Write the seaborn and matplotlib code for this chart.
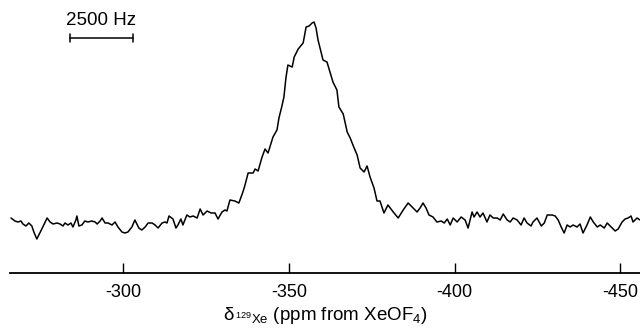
import numpy as np
import pandas as pd
import matplotlib
matplotlib.use("Agg")
import matplotlib.pyplot as plt
import seaborn as sns

# chemical shift (ppm) and intensity (arbitrary units)
shift_ppm = [
    -266.1, -267.3, -268.2, -269.1, -269.7, -270.6, -271.5, -272.4, -273.0, -273.9,
    -274.5, -275.7, -277.0, -277.9, -278.8, -280.0, -280.9, -281.8, -282.4, -283.3,
    -284.2, -284.8, -285.7, -286.0, -286.6, -287.5, -288.4, -289.3, -290.5, -291.5,
    -292.1, -293.0, -293.6, -294.5, -295.4, -296.6, -297.5, -298.4, -299.6, -300.5,
    -301.4, -302.6, -303.5, -304.7, -305.6, -306.6, -307.5, -308.7, -309.6, -310.5,
    -311.7, -312.6, -313.2, -313.8, -315.0, -315.9, -316.5, -317.4, -318.0, -319.2,
    -320.1, -321.1, -322.3, -323.2, -324.1, -325.3, -326.5, -327.7, -328.6, -329.8,
    -330.7, -331.3, -332.2, -333.7, -334.9, -335.9, -336.5, -337.7, -339.2, -339.8,
    -340.7, -341.9, -342.8, -343.7, -345.2, -346.4, -347.0, -347.9, -348.5, -349.1,
    -349.7, -351.0, -351.6, -352.8, -354.3, -355.2, -356.1, -357.0, -357.6, -358.2,
    -358.8, -360.3, -361.5, -362.4, -363.3, -364.5, -365.1, -366.4, -367.6, -368.5,
    -369.7, -370.6, -371.5, -372.7, -373.6, -374.5, -375.7, -376.6, -377.5, -378.7,
    -379.9, -381.5, -383.0, -384.5, -386.0, -387.5, -388.7, -389.6, -390.5, -391.4,
    -392.3, -393.5, -394.7, -396.0, -396.9, -397.8, -398.7, -399.6, -400.8, -402.0,
    -403.2, -404.1, -405.3, -405.9, -406.8, -407.7, -408.6, -409.8, -410.7, -411.7,
    -412.9, -413.8, -414.7, -415.9, -416.8, -417.7, -418.9, -420.1, -421.0, -421.9,
    -423.1, -423.7, -424.9, -426.2, -427.1, -428.0, -429.5, -430.4, -431.3, -432.2,
    -433.1, -434.0, -434.9, -435.8, -437.0, -437.9, -438.8, -440.0, -441.0, -441.9,
    -443.1, -444.0, -445.2, -446.1, -447.3, -448.5, -449.4, -450.6, -451.5, -452.4,
    -453.3, -453.9, -455.1, -456.0,
]
intensity = [
    55, 52, 51, 52, 49, 47, 50, 47, 41, 34,
    38, 46, 55, 51, 49, 50, 49, 47, 50, 48,
    50, 46, 53, 57, 47, 48, 52, 51, 52, 51,
    49, 52, 55, 50, 50, 48, 51, 46, 41, 40,
    41, 46, 53, 45, 43, 46, 50, 50, 48, 45,
    50, 51, 50, 57, 54, 45, 48, 54, 48, 58,
    56, 57, 55, 64, 58, 62, 60, 60, 54, 61,
    63, 62, 73, 72, 70, 79, 85, 100, 100, 104,
    102, 116, 124, 120, 136, 143, 155, 167, 176, 195,
    208, 206, 216, 224, 230, 246, 247, 250, 251, 245,
    233, 213, 211, 201, 191, 183, 166, 159, 141, 135,
    125, 118, 105, 101, 107, 96, 85, 72, 72, 60,
    68, 61, 55, 63, 70, 65, 61, 65, 70, 65,
    58, 56, 51, 52, 50, 54, 48, 55, 51, 56,
    53, 45, 61, 56, 61, 56, 60, 51, 58, 55,
    55, 53, 59, 53, 51, 55, 53, 48, 55, 50,
    47, 51, 55, 47, 50, 58, 58, 57, 53, 46,
    40, 48, 46, 48, 46, 49, 40, 48, 56, 51,
    46, 48, 45, 50, 46, 42, 44, 51, 54, 55,
    57, 51, 55, 53,
]
tick_values = [-300, -350, -400, -450]
tick_labels = ["-300", "-350", "-400", "-450"]

# scale bar (2500 Hz) in ppm / intensity units
bar_ppm = [-283.9, -302.9]
bar_level = 235
bar_text = "2500 Hz"

df = pd.DataFrame({"ppm": shift_ppm, "I": intensity})

sns.set_style("white")
plt.rcParams["font.family"] = ["Liberation Sans", "DejaVu Sans"]
plt.rcParams["mathtext.fontset"] = "custom"
plt.rcParams["mathtext.rm"] = "Liberation Sans"
plt.rcParams["mathtext.it"] = "Liberation Sans:italic"

fig = plt.figure(figsize=(6.4, 3.29), dpi=100)
ax = fig.add_axes([10 / 640, 56 / 329, 630 / 640, 273 / 329])

sns.lineplot(data=df, x="ppm", y="I", sort=False, estimator=None,
             color="black", linewidth=1.1, ax=ax)

ax.set_xlim(-265.8, -456.0)
ax.set_ylim(0, 273)

for s in ["top", "left", "right"]:
    ax.spines[s].set_visible(False)
ax.spines["bottom"].set_linewidth(1.3)
ax.spines["bottom"].set_color("black")

ax.set_yticks([])
ax.set_xticks(tick_values)
ax.set_xticklabels(tick_labels, fontsize=13)
ax.tick_params(axis="x", direction="in", length=7, width=1, pad=8,
               colors="black", bottom=True)

ax.set_xlabel("δ$_{\\,^{129}\\mathrm{Xe}}$ (ppm from XeOF$_4$)",
              fontsize=13.5, labelpad=3, color="black")
ax.set_ylabel("")

# scale bar
ax.plot(bar_ppm, [bar_level, bar_level], color="black", linewidth=1.1)
for b in bar_ppm:
    ax.plot([b, b], [bar_level - 4, bar_level + 4], color="black", linewidth=1.1)
ax.text(np.mean(bar_ppm), bar_level + 9, bar_text, ha="center", va="bottom",
        fontsize=13.5, color="black")

fig.savefig("out.png", dpi=100)
